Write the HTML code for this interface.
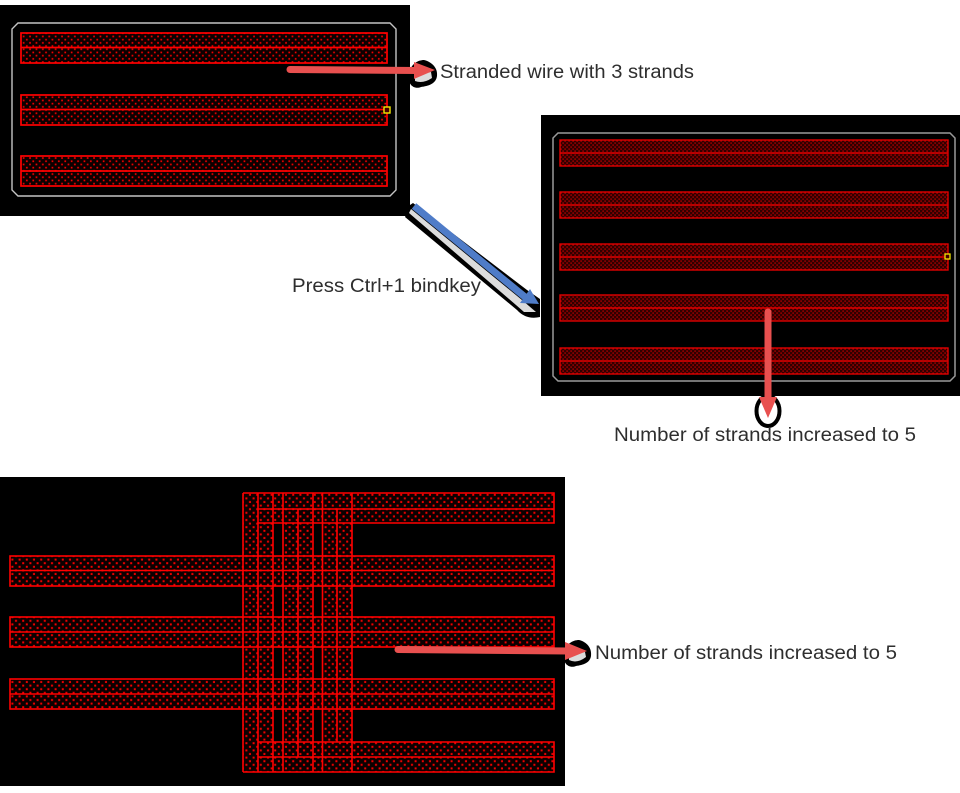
<!DOCTYPE html>
<html><head><meta charset="utf-8"><style>
html,body{margin:0;padding:0;background:#fff;width:960px;height:793px;overflow:hidden}
svg{display:block}
text{font-family:"Liberation Sans",sans-serif;font-size:19px;fill:#2e2e2e}
</style></head><body>
<svg width="960" height="793" viewBox="0 0 960 793" xmlns="http://www.w3.org/2000/svg">
<defs>
<pattern id="d1" width="6.4" height="6.4" patternUnits="userSpaceOnUse">
<rect width="6.4" height="6.4" fill="#0c0000"/>
<rect x="0.4" y="0.4" width="1.7" height="1.7" fill="#f00000"/>
<rect x="3.6" y="3.6" width="1.7" height="1.7" fill="#f00000"/>
</pattern>
<pattern id="d3" width="7.2" height="7.2" patternUnits="userSpaceOnUse">
<rect width="7.2" height="7.2" fill="#0c0000"/>
<rect x="0.6" y="0.6" width="2" height="2" fill="#f00000"/>
<rect x="4.2" y="4.2" width="2" height="2" fill="#f00000"/>
</pattern>
<pattern id="d2" width="4" height="4" patternUnits="userSpaceOnUse">
<rect width="4" height="4" fill="#300000"/>
<rect x="0.4" y="0.4" width="1.4" height="1.4" fill="#b80000"/>
<rect x="2.400" y="2.400" width="1.4" height="1.4" fill="#b80000"/>
</pattern>
</defs>
<rect width="960" height="793" fill="#fff"/>

<!-- Panel 1 -->
<rect x="0" y="5" width="410" height="211" fill="#000"/>
<path d="M18 23H390L396 29V190L390 196H18L12 190V29Z" fill="none" stroke="#c4c4c4" stroke-width="1.4"/>
<g fill="url(#d1)" stroke="#ff0000" stroke-width="1.7">
<rect x="21" y="33" width="366" height="30"/><path d="M21 47.5H387"/>
<rect x="21" y="95" width="366" height="30"/><path d="M21 109.5H387"/>
<rect x="21" y="156" width="366" height="30"/><path d="M21 171H387"/>
</g>
<rect x="384" y="107" width="6" height="6" fill="#400" stroke="#f4e800" stroke-width="1.4"/>

<!-- Panel 2 -->
<rect x="541" y="115" width="419" height="281" fill="#000"/>
<path d="M558 133H950L955 138V376L950 381H558L553 376V138Z" fill="none" stroke="#9a9a9a" stroke-width="1.5"/>
<g fill="url(#d2)" stroke="#e00000" stroke-width="1.4">
<rect x="560" y="140" width="388" height="26"/><path d="M560 153H948"/>
<rect x="560" y="192" width="388" height="26"/><path d="M560 205H948"/>
<rect x="560" y="244" width="388" height="26"/><path d="M560 257H948"/>
<rect x="560" y="295" width="388" height="26"/><path d="M560 308H948"/>
<rect x="560" y="348" width="388" height="26"/><path d="M560 361H948"/>
</g>
<rect x="945" y="254" width="5" height="5" fill="#400" stroke="#f4e800" stroke-width="1.3"/>

<!-- Panel 3 -->
<rect x="0" y="477" width="565" height="309" fill="#000"/>
<g fill="url(#d3)" stroke="none">
<rect x="243" y="493" width="30" height="279"/>
<rect x="283" y="493" width="30" height="279"/>
<rect x="323" y="493" width="29" height="279"/>
<rect x="243" y="493" width="311" height="30"/>
<rect x="243" y="742" width="311" height="30"/>
<rect x="10" y="556" width="544" height="30"/>
<rect x="10" y="617" width="544" height="30"/>
<rect x="10" y="679" width="544" height="30"/>
</g>
<g fill="none" stroke="#ff0000" stroke-width="1.6">
<rect x="10" y="556" width="544" height="30"/><path d="M10 570.5H554"/>
<rect x="10" y="617" width="544" height="30"/><path d="M10 632H554"/>
<rect x="10" y="679" width="544" height="30"/><path d="M10 694H554"/>
<path d="M243 493H554V523H258M258 509H554"/>
<path d="M243 772H554V742H258M258 757H554"/>
<path d="M243 493V772M258 493V772M273 493V772M283 493V772M298 509V757M313 493V772M322.500 493V772M337 509V742M352 493V772"/>
</g>

<!-- Arrow 1 -->
<path d="M409 75C410 64 418 60 424 60C432 62 438 68 437 76C436 84 428 86 421 87C414 90 407 84 409 75Z" fill="#000"/>
<path d="M415 81Q423 84 432 78L431 72L415 74Z" fill="#dcdcdc"/>
<path d="M290 69.500L418 70.500" stroke="#e8504f" stroke-width="7" stroke-linecap="round" fill="none"/>
<path d="M414 62L435 70L414 79Z" fill="#e8504f"/>

<!-- Arrow blue -->
<path d="M413 203L527 290L540 299V317Q526 320 517 310L405 217L410 205Z" fill="#000"/>
<path d="M411 209L522 300L536 312L524 312L516 305L409 213Z" fill="#dcdcdc"/>
<path d="M414 206L525 297" stroke="#4f7cc8" stroke-width="7" fill="none"/>
<path d="M530 289L539 304L520 303Z" fill="#4f7cc8"/>

<!-- Arrow 2 -->
<ellipse cx="768" cy="411" rx="11.500" ry="15" fill="#fff" stroke="#000" stroke-width="4"/>
<path d="M768 312V400" stroke="#e8504f" stroke-width="7" stroke-linecap="round" fill="none"/>
<path d="M759 397H777L768 418Z" fill="#e8504f"/>

<!-- Arrow 3 -->
<path d="M564 654C565 644 573 640 579 640C587 642 592 648 591 656C590 663 583 665 576 666C569 669 562 663 564 654Z" fill="#000"/>
<path d="M569 660Q577 664 586 657L585 652L569 654Z" fill="#dcdcdc"/>
<path d="M398 649.500L568 651" stroke="#e8504f" stroke-width="7" stroke-linecap="round" fill="none"/>
<path d="M565 642L587 651L565 660Z" fill="#e8504f"/>

<!-- Labels -->
<text x="440" y="78" textLength="254" lengthAdjust="spacingAndGlyphs">Stranded wire with 3 strands</text>
<text x="292" y="292" textLength="189" lengthAdjust="spacingAndGlyphs">Press Ctrl+1 bindkey</text>
<text x="614" y="441" textLength="302" lengthAdjust="spacingAndGlyphs">Number of strands increased to 5</text>
<text x="595" y="659" textLength="302" lengthAdjust="spacingAndGlyphs">Number of strands increased to 5</text>
</svg>
</body></html>
